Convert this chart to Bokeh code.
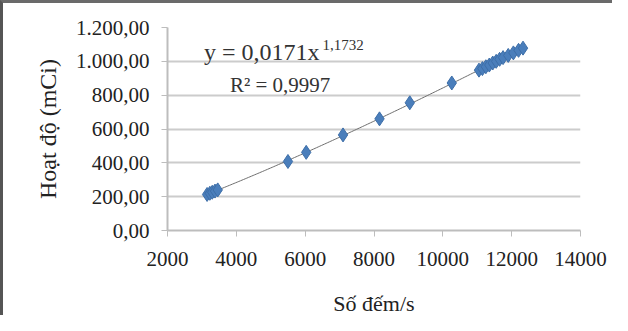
import numpy as np
from bokeh.plotting import figure
from bokeh.models import Range1d, FixedTicker, Label
from bokeh.embed import file_html
from bokeh.resources import INLINE

# Data
counts = [3150, 3230, 3300, 3380, 3460, 5500, 6030, 7100, 8160, 9040, 10260,
          11050, 11150, 11250, 11350, 11450, 11550, 11650, 11750, 11900, 12050, 12200, 12330]
activity = [213, 220, 226, 233, 240, 408, 462, 565, 660, 755, 872,
            948, 957, 968, 978, 990, 1000, 1012, 1022, 1035, 1050, 1065, 1078]

x_ticks = [2000, 4000, 6000, 8000, 10000, 12000, 14000]
x_tick_labels = ["2000", "4000", "6000", "8000", "10000", "12000", "14000"]
y_ticks = [0, 200, 400, 600, 800, 1000, 1200]
y_tick_labels = ["0,00", "200,00", "400,00", "600,00", "800,00", "1.000,00", "1.200,00"]

eq_text = "y = 0,0171x"
eq_exp = "1,1732"
r2_text = "R² = 0,9997"
x_title = "Số đếm/s"
y_title = "Hoạt độ (mCi)"

FONT = "Liberation Serif"

p = figure(width=612, height=315, output_backend="svg", toolbar_location=None,
           x_range=Range1d(2000, 14000), y_range=Range1d(0, 1200),
           min_border_left=164, min_border_right=35, min_border_top=24, min_border_bottom=88)
p.background_fill_color = "white"
p.border_fill_color = "white"
p.outline_line_color = None
p.styles = {"border-left": "3px solid #555555", "border-top": "3px solid #6a6a6a"}

# power-law trendline fitted from the data (log-log least squares)
b, a = np.polyfit(np.log(counts), np.log(activity), 1)
xs = np.linspace(min(counts), max(counts), 200)
p.line(xs, np.exp(a) * xs ** b, line_color="#6e6e6e", line_width=1)

p.scatter(counts, activity, marker="diamond", size=14, fill_color="#4a7ebb",
          line_color="#3d6ea8", line_width=1)

for ax, ticks, labels in ((p.xaxis[0], x_ticks, x_tick_labels), (p.yaxis[0], y_ticks, y_tick_labels)):
    ax.ticker = FixedTicker(ticks=ticks)
    ax.major_label_overrides = {t: l for t, l in zip(ticks, labels)}
    ax.minor_tick_line_color = None
    ax.major_tick_in = 0
    ax.major_tick_out = 6
    ax.major_tick_line_color = "#bdbdbd"
    ax.axis_line_color = "#bdbdbd"
    ax.axis_line_width = 2
    ax.major_label_text_font = FONT
    ax.major_label_text_font_size = "21px"
    ax.major_label_text_color = "#222222"
    ax.axis_label_text_font = FONT
    ax.axis_label_text_font_style = "normal"
    ax.axis_label_text_color = "#222222"

p.xaxis.axis_label = x_title
p.yaxis.axis_label = y_title
p.xaxis.axis_label_text_font_size = "22px"
p.yaxis.axis_label_text_font_size = "24px"
p.xaxis.major_label_standoff = 15
p.yaxis.major_label_standoff = 12
p.xaxis.axis_label_standoff = 22
p.yaxis.axis_label_standoff = 12

p.xgrid.grid_line_color = None
p.ygrid.ticker = FixedTicker(ticks=y_ticks)
p.ygrid.grid_line_color = "#cccccc"
p.ygrid.grid_line_width = 2

# trendline annotation (placed in data space where the reference shows it)
p.add_layout(Label(x=3060, y=1057, text=eq_text, text_baseline="middle",
                   text_font=FONT, text_font_size="24px", text_color="#333333"))
p.add_layout(Label(x=6500, y=1098, text=eq_exp, text_baseline="middle",
                   text_font=FONT, text_font_size="15px", text_color="#333333"))
p.add_layout(Label(x=3815, y=858, text=r2_text, text_baseline="middle",
                   text_font=FONT, text_font_size="21px", text_color="#333333"))

open("out.html", "w").write(file_html(p, INLINE))
